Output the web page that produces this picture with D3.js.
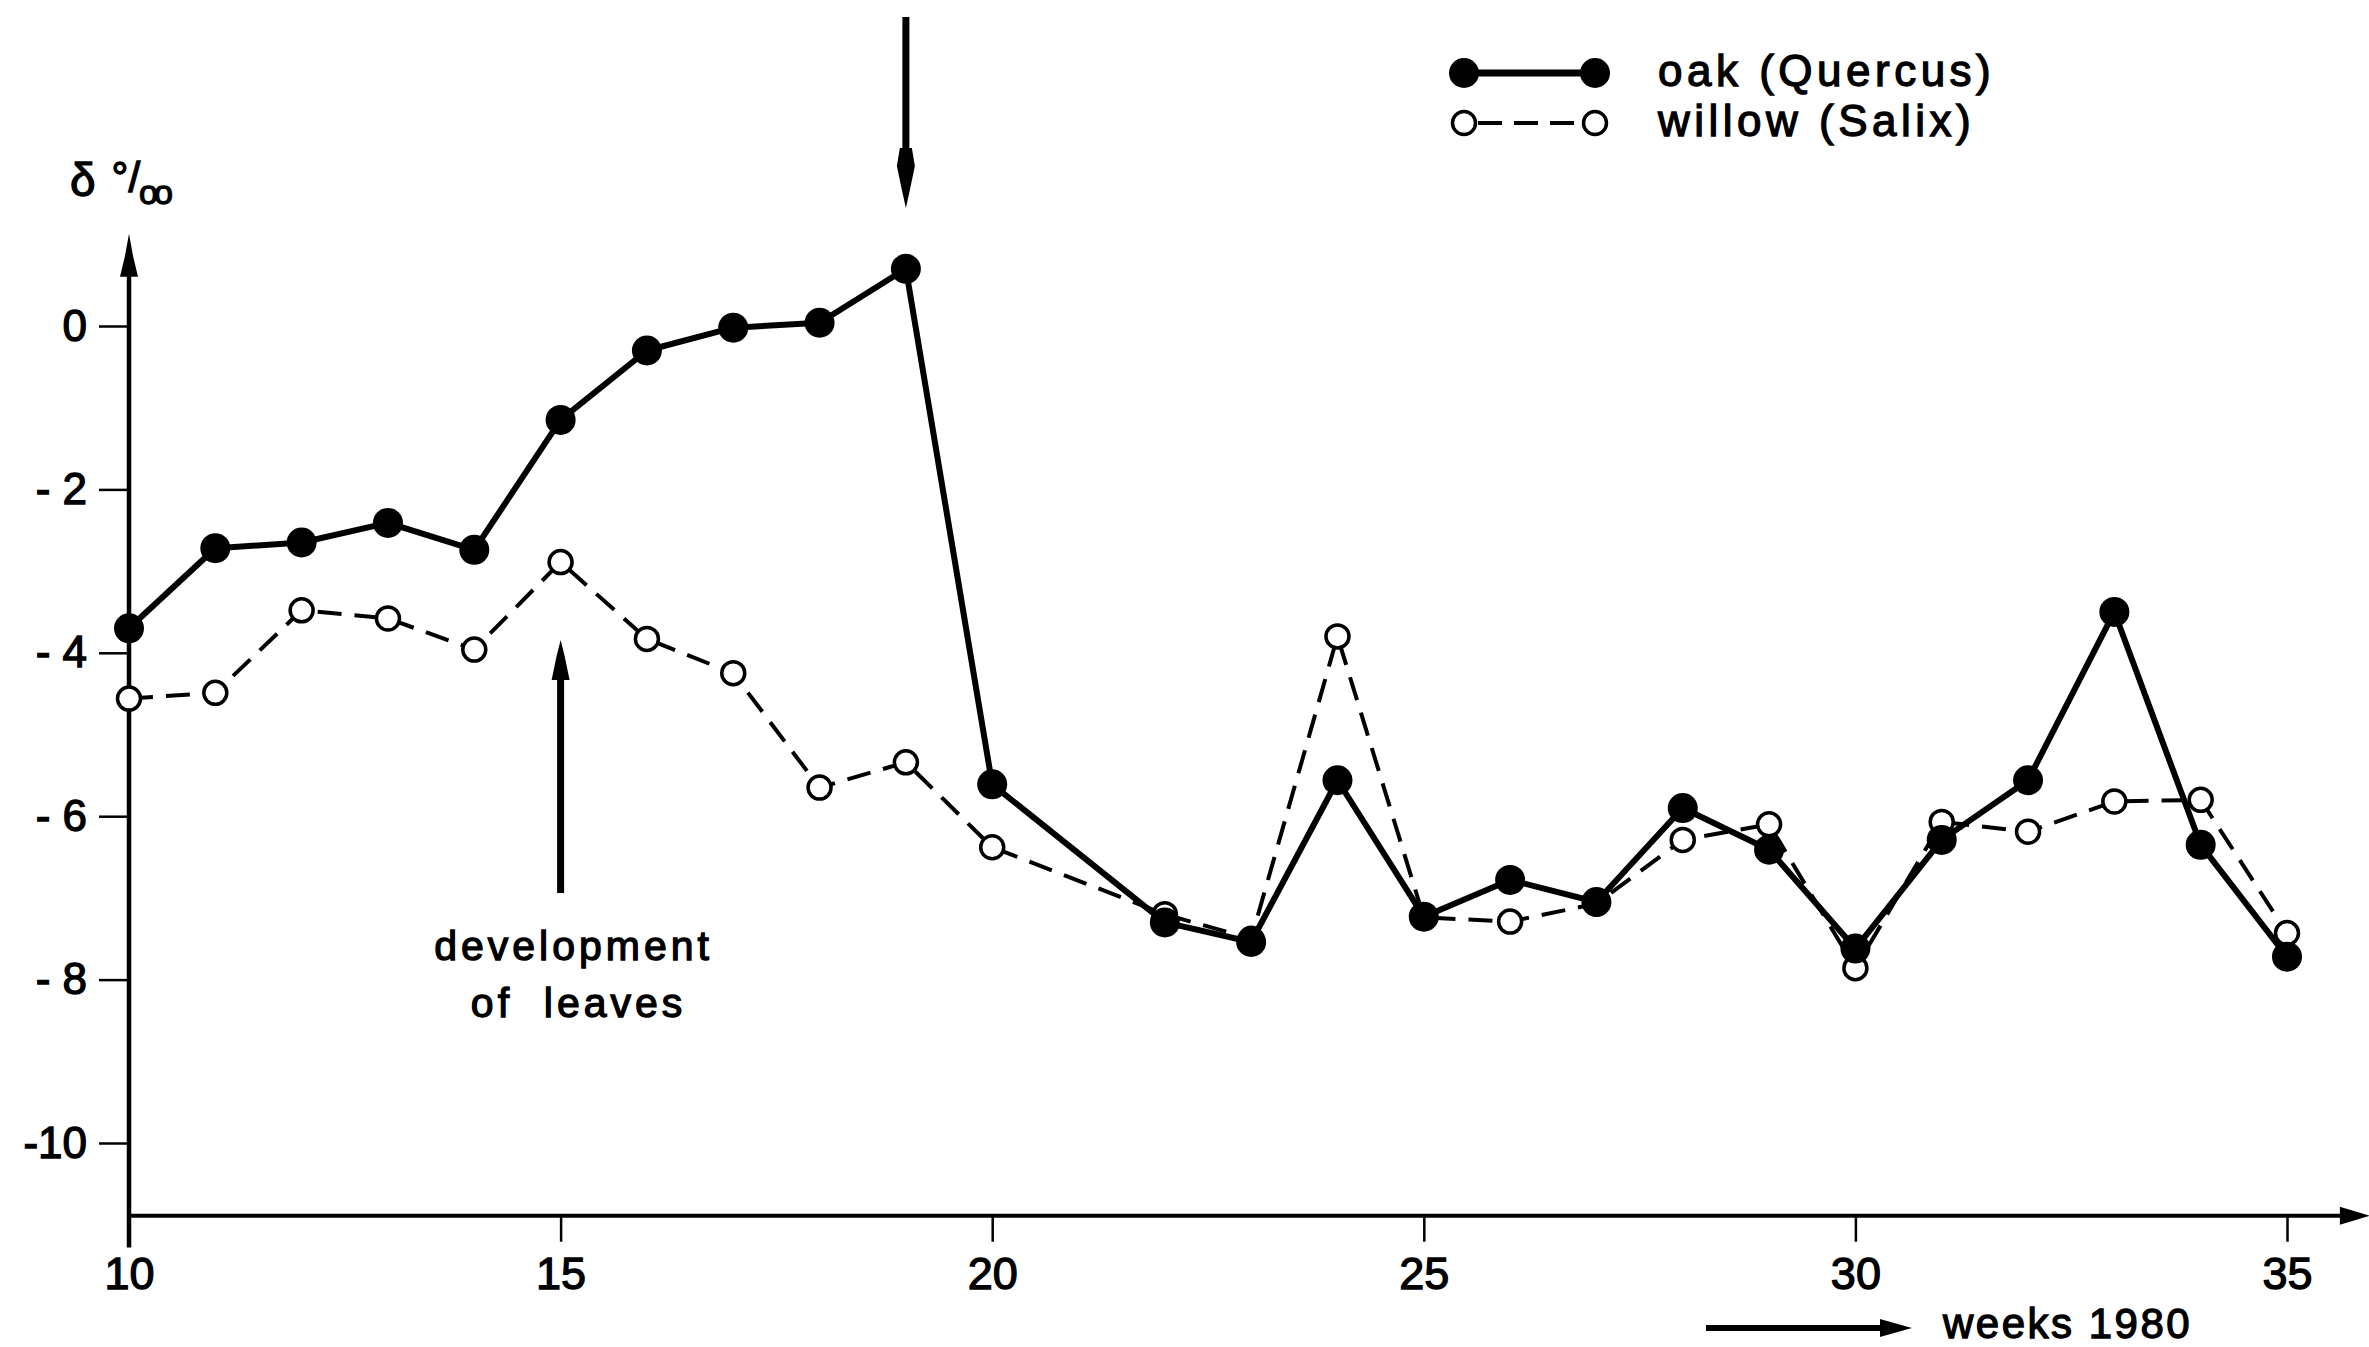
<!DOCTYPE html>
<html>
<head>
<meta charset="utf-8">
<script src="https://cdn.jsdelivr.net/npm/d3@7"></script>
<style>
  html, body { margin: 0; padding: 0; background: #fff; }
  svg { display: block; }
  text { font-family: "Liberation Sans", Arial, Helvetica, sans-serif; fill: #000; }
</style>
</head>
<body>
<svg id="chart" width="2369" height="1347"></svg>
<script>
// Sampling weeks of 1980 (no sample in week 21)
const weeks = [10, 11, 12, 13, 14, 15, 16, 17, 18, 19, 20, 22, 23, 24, 25, 26, 27, 28, 29, 30, 31, 32, 33, 34, 35];

// δ values (per mille) for oak (Quercus)
const oak = [-3.70, -2.72, -2.65, -2.41, -2.74, -1.15, -0.30, -0.02, 0.04, 0.70, -5.61,
             -7.30, -7.54, -5.56, -7.23, -6.78, -7.05, -5.90, -6.41, -7.62, -6.29, -5.56, -3.50, -6.35, -7.72];

// δ values (per mille) for willow (Salix)
const willow = [-4.56, -4.49, -3.48, -3.58, -3.96, -2.89, -3.83, -4.25, -5.65, -5.34, -6.38,
                -7.20, -7.50, -3.80, -7.24, -7.29, -7.07, -6.29, -6.10, -7.86, -6.07, -6.19, -5.82, -5.80, -7.43];

// Axis ticks
const xTicks = [10, 15, 20, 25, 30, 35];
const yTicks = [0, -2, -4, -6, -8, -10];
const yTickLabels = ["0", "- 2", "- 4", "- 6", "- 8", "-10"];

// Legend entries
const seriesNames = ["oak (Quercus)", "willow (Salix)"];

const svg = d3.select("#chart");

const x = d3.scaleLinear().domain([10, 35]).range([129, 2287]);
const y = d3.scaleLinear().domain([0, -10]).range([326, 1143]);

const axisBase = -10.89;   // value where the horizontal axis sits
const axisTop = 1.13;      // arrow tip of the vertical axis
const axisLow = -11.28;    // lower end of the vertical axis
const axisRight = 35.96;   // arrow tip of the horizontal axis

const ink = "#000";
const textStroke = 1.3;

// ---- vertical axis with arrow ----
const gy = svg.append("g").attr("transform", `translate(${x(10)},0)`)
  .call(d3.axisLeft(y).tickValues(yTicks).tickSize(30).tickPadding(12)
        .tickFormat((d, i) => yTickLabels[i]));
gy.select(".domain").remove();
gy.selectAll(".tick line").attr("stroke", ink).attr("stroke-width", 2.5);
gy.selectAll(".tick text").attr("font-size", 44).attr("stroke", ink).attr("stroke-width", textStroke)
  .attr("font-family", "Liberation Sans, Arial, sans-serif");

svg.append("line")
  .attr("x1", x(10)).attr("x2", x(10))
  .attr("y1", y(axisLow)).attr("y2", y(axisTop) + 30)
  .attr("stroke", ink).attr("stroke-width", 4.5);
svg.append("path")
  .attr("d", d3.line()([[x(10), y(axisTop)], [x(10) + 4, y(axisTop) + 22], [x(10) + 9, y(axisTop) + 43],
                         [x(10) - 9, y(axisTop) + 43], [x(10) - 4, y(axisTop) + 22]]) + "Z")
  .attr("fill", ink);

// ---- horizontal axis with arrow ----
const gx = svg.append("g").attr("transform", `translate(0,${y(axisBase)})`)
  .call(d3.axisBottom(x).tickValues(xTicks).tickSize(26).tickPadding(15).tickFormat(d3.format("d")));
gx.select(".domain").remove();
gx.selectAll(".tick line").attr("stroke", ink).attr("stroke-width", 2.5);
gx.selectAll(".tick text").attr("font-size", 45).attr("stroke", ink).attr("stroke-width", textStroke)
  .attr("font-family", "Liberation Sans, Arial, sans-serif");

svg.append("line")
  .attr("x1", x(10)).attr("x2", x(axisRight) - 20)
  .attr("y1", y(axisBase)).attr("y2", y(axisBase))
  .attr("stroke", ink).attr("stroke-width", 4);
svg.append("path")
  .attr("d", d3.line()([[x(axisRight), y(axisBase)], [x(axisRight) - 30, y(axisBase) - 9],
                         [x(axisRight) - 30, y(axisBase) + 9]]) + "Z")
  .attr("fill", ink);

// ---- axis titles ----
const yt = svg.append("text").attr("x", 70).attr("y", 196).attr("font-size", 46)
  .attr("stroke", ink).attr("stroke-width", textStroke);
yt.append("tspan").text("δ");
yt.append("tspan").attr("dx", 16).attr("dy", -4).attr("font-size", 42).text("°/");
yt.append("tspan").attr("dx", -1).attr("dy", 12).attr("font-size", 34).attr("letter-spacing", -4).text("oo");

// "weeks 1980" with arrow
const wy = 1328;
svg.append("line").attr("x1", 1706).attr("x2", 1885).attr("y1", wy).attr("y2", wy)
  .attr("stroke", ink).attr("stroke-width", 6);
svg.append("path")
  .attr("d", d3.line()([[1912, wy], [1880, wy - 9], [1880, wy + 9]]) + "Z").attr("fill", ink);
svg.append("text").attr("x", 1943).attr("y", wy + 10).attr("font-size", 42)
  .attr("letter-spacing", 2.5).attr("stroke", ink).attr("stroke-width", textStroke).text("weeks 1980");

// ---- annotations ----
// downward arrow marking week 19
const ax19 = x(19);
svg.append("line").attr("x1", ax19).attr("x2", ax19).attr("y1", 17).attr("y2", 160)
  .attr("stroke", ink).attr("stroke-width", 7);
svg.append("path")
  .attr("d", d3.line()([[ax19, 208], [ax19 - 4, 190], [ax19 - 9, 166], [ax19 - 6, 148],
                         [ax19 + 6, 148], [ax19 + 9, 166], [ax19 + 4, 190]]) + "Z")
  .attr("fill", ink);

// upward arrow marking week 15 (development of leaves)
const ax15 = x(15);
svg.append("line").attr("x1", ax15).attr("x2", ax15).attr("y1", 893).attr("y2", 670)
  .attr("stroke", ink).attr("stroke-width", 7);
svg.append("path")
  .attr("d", d3.line()([[ax15, 640], [ax15 + 4, 656], [ax15 + 9, 680], [ax15 - 9, 680], [ax15 - 4, 656]]) + "Z")
  .attr("fill", ink);
svg.append("text").attr("x", ax15 + 13).attr("y", 960).attr("text-anchor", "middle")
  .attr("font-size", 41).attr("letter-spacing", 4).attr("stroke", ink).attr("stroke-width", textStroke)
  .text("development");
svg.append("text").attr("x", ax15 + 18).attr("y", 1017).attr("text-anchor", "middle")
  .attr("font-size", 41).attr("letter-spacing", 4).attr("stroke", ink).attr("stroke-width", textStroke)
  .attr("xml:space", "preserve").text("of  leaves");

// ---- data series ----
const line = d3.line().x(d => x(d[0])).y(d => y(d[1]));
const willowPts = weeks.map((w, i) => [w, willow[i]]);
const oakPts = weeks.map((w, i) => [w, oak[i]]);

svg.append("path").datum(willowPts).attr("d", line)
  .attr("fill", "none").attr("stroke", ink).attr("stroke-width", 4)
  .attr("stroke-dasharray", "24,13");
svg.append("g").selectAll("circle").data(willowPts).join("circle")
  .attr("cx", d => x(d[0])).attr("cy", d => y(d[1])).attr("r", 11.5)
  .attr("fill", "#fff").attr("stroke", ink).attr("stroke-width", 3.5);

svg.append("path").datum(oakPts).attr("d", line)
  .attr("fill", "none").attr("stroke", ink).attr("stroke-width", 6)
  .attr("stroke-linejoin", "round");
svg.append("g").selectAll("circle").data(oakPts).join("circle")
  .attr("cx", d => x(d[0])).attr("cy", d => y(d[1])).attr("r", 15)
  .attr("fill", ink);

// ---- legend ----
const lg = svg.append("g");
const lx1 = 1464, lx2 = 1595, ly = [73, 123];
lg.append("line").attr("x1", lx1).attr("x2", lx2).attr("y1", ly[0]).attr("y2", ly[0])
  .attr("stroke", ink).attr("stroke-width", 7);
[lx1, lx2].forEach(cx => lg.append("circle").attr("cx", cx).attr("cy", ly[0]).attr("r", 15).attr("fill", ink));
lg.append("line").attr("x1", lx1).attr("x2", lx2).attr("y1", ly[1]).attr("y2", ly[1])
  .attr("stroke", ink).attr("stroke-width", 4).attr("stroke-dasharray", "24,12")
  .attr("stroke-dashoffset", -14);
[lx1, lx2].forEach(cx => lg.append("circle").attr("cx", cx).attr("cy", ly[1]).attr("r", 11.5)
  .attr("fill", "#fff").attr("stroke", ink).attr("stroke-width", 3.5));
seriesNames.forEach((s, i) => {
  lg.append("text").attr("x", 1658).attr("y", ly[i] + 13).attr("font-size", 44)
    .attr("letter-spacing", 4.5).attr("stroke", ink).attr("stroke-width", textStroke).text(s);
});
</script>
</body>
</html>
